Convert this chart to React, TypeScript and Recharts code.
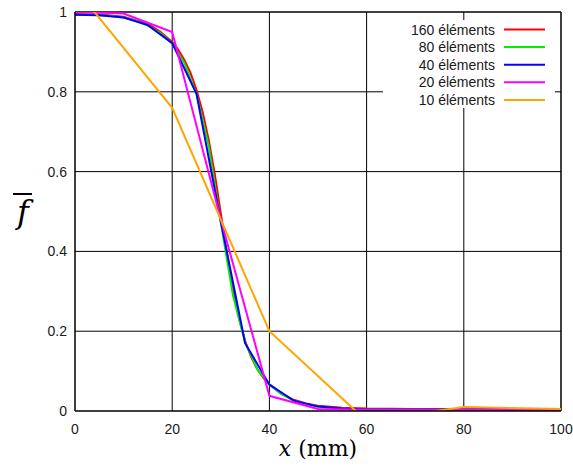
import { CartesianGrid, Legend, Line, LineChart, ReferenceLine, XAxis, YAxis } from 'recharts'

// x positions (mm) and values for each mesh
const X_160 = [0, 5, 10, 15, 17.5, 20, 21.25, 22.5, 23.75, 25, 26.25, 27.5, 28.75, 30, 31.25, 32.5, 33.75, 35, 36.25, 37.5, 38.75, 40, 42.5, 45, 47.5, 50, 55, 60, 70, 80, 90, 100];
const Y_160 = [0.995, 0.994, 0.988, 0.97, 0.951, 0.925, 0.905, 0.88, 0.848, 0.805, 0.75, 0.68, 0.595, 0.495, 0.395, 0.305, 0.232, 0.176, 0.135, 0.105, 0.083, 0.067, 0.043, 0.028, 0.019, 0.013, 0.008, 0.006, 0.005, 0.005, 0.005, 0.005];

const X_80 = [0, 2.5, 5, 7.5, 10, 12.5, 15, 17.5, 20, 22.5, 25, 27.5, 30, 32.5, 35, 37.5, 40, 42.5, 45, 47.5, 50, 52.5, 55, 57.5, 60, 70, 80, 90, 100];
const Y_80 = [0.993, 0.993, 0.992, 0.99, 0.986, 0.978, 0.966, 0.948, 0.921, 0.872, 0.795, 0.665, 0.472, 0.29, 0.172, 0.105, 0.066, 0.042, 0.026, 0.017, 0.011, 0.008, 0.006, 0.005, 0.004, 0.004, 0.004, 0.004, 0.004];

const X_40 = [0, 5, 10, 15, 20, 25, 30, 35, 40, 45, 50, 55, 60, 65, 70, 75, 80, 85, 90, 95, 100];
const Y_40 = [0.993, 0.992, 0.986, 0.967, 0.922, 0.795, 0.475, 0.17, 0.066, 0.026, 0.011, 0.006, 0.004, 0.004, 0.004, 0.004, 0.004, 0.004, 0.004, 0.004, 0.004];

const X_20 = [0, 10, 20, 30, 40, 50, 60, 70, 80, 90, 100];
const Y_20 = [1.0, 0.996, 0.95, 0.48, 0.038, 0.005, 0.003, 0.003, 0.003, 0.003, 0.003];

const X_10 = [0, 20, 40, 60, 80, 100];
const Y_10 = [1.06, 0.76, 0.2, -0.025, 0.01, 0.005];

const X_TICKS = [0, 20, 40, 60, 80, 100];
const Y_TICKS = [0, 0.2, 0.4, 0.6, 0.8, 1];
const Y_TICK_LABELS = ['0', '0.2', '0.4', '0.6', '0.8', '1'];

const toPoints = (xs: number[], ys: number[]) => xs.map((x, i) => ({ x, y: ys[i] }));

const SERIES = [
    { name: '160 éléments', color: '#ff0000', data: toPoints(X_160, Y_160) },
    { name: '80 éléments', color: '#00ee00', data: toPoints(X_80, Y_80) },
    { name: '40 éléments', color: '#0000ff', data: toPoints(X_40, Y_40) },
    { name: '20 éléments', color: '#ff00ff', data: toPoints(X_20, Y_20) },
    { name: '10 éléments', color: '#ffa500', data: toPoints(X_10, Y_10) },
];

const TICK_FONT = { fontFamily: 'Liberation Sans, Arial, sans-serif', fontSize: 14, fill: '#1a1a1a' };
const MATH_FONT = 'DejaVu Serif, serif';

const LegendBox = () => (
    <svg width={172} height={88} style={{ display: 'block', background: '#fff' }}>
        {SERIES.map((s, i) => {
            const cy = 9.5 + i * 17.6;
            return (
                <g key={s.name}>
                    <text x={112} y={cy} textAnchor="end" dominantBaseline="central"
                        style={{ fontFamily: 'Liberation Sans, Arial, sans-serif', fontSize: 14, fill: '#1a1a1a' }}>
                        {s.name}
                    </text>
                    <line x1={121} x2={162} y1={cy} y2={cy} stroke={s.color} strokeWidth={2} />
                </g>
            );
        })}
    </svg>
);

const FLabel = () => (
    <g>
        <text x={23} y={223} textAnchor="middle"
            style={{ fontFamily: MATH_FONT, fontStyle: 'italic', fontSize: 32, fill: '#000' }}>
            f
        </text>
        <line x1={13} x2={32} y1={194} y2={194} stroke="#000" strokeWidth={2} />
    </g>
);

const XLabel = () => (
    <text x={318} y={456} textAnchor="middle"
        style={{ fontFamily: MATH_FONT, fontSize: 22, fill: '#000' }}>
        <tspan fontStyle="italic">x</tspan>
        <tspan> (mm)</tspan>
    </text>
);

const App = () => {
    return (
        <div style={{ position: 'absolute', left: 0, top: 0, background: '#fff' }}>
            <LineChart width={573} height={466} margin={{ top: 12, right: 12, bottom: 0, left: 0 }}>
                <CartesianGrid stroke="#000" strokeWidth={1} horizontalValues={[0.2, 0.4, 0.6, 0.8]} verticalValues={[20, 40, 60, 80]} />
                <XAxis type="number" dataKey="x" domain={[0, 100]} ticks={X_TICKS} height={55}
                    tickLine={false} tickSize={0} tickMargin={13} tick={TICK_FONT}
                    axisLine={{ stroke: '#000', strokeWidth: 1.5 }} label={<XLabel />} />
                <YAxis type="number" dataKey="y" domain={[0, 1]} allowDataOverflow ticks={Y_TICKS} width={75}
                    tickFormatter={(v: number) => Y_TICK_LABELS[Y_TICKS.indexOf(v)] ?? String(v)}
                    tickLine={false} tickSize={0} tickMargin={8} tick={TICK_FONT}
                    axisLine={{ stroke: '#000', strokeWidth: 1.5 }} label={<FLabel />} />
                <ReferenceLine y={1} stroke="#000" strokeWidth={1.5} />
                <ReferenceLine x={100} stroke="#000" strokeWidth={1.5} />
                {SERIES.map((s) => (
                    <Line key={s.name} data={s.data} dataKey="y" name={s.name} type="linear"
                        stroke={s.color} strokeWidth={2} dot={false} activeDot={false} isAnimationActive={false} />
                ))}
                <Legend layout="vertical" align="center" verticalAlign="middle" content={<LegendBox />}
                    wrapperStyle={{ left: 383, top: 20, width: 172, height: 88 }} />
            </LineChart>
        </div>
    )
}

export default App
